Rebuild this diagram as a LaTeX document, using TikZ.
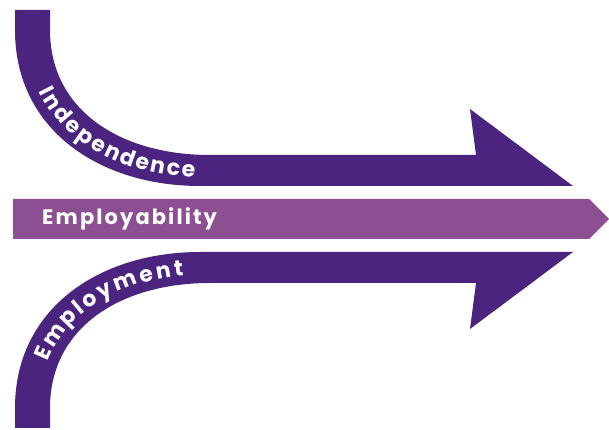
\documentclass[tikz,border=0pt]{standalone}
\usepackage{fontspec}
\newfontfamily\popfont[LetterSpace=10]{Poppins}
\usetikzlibrary{decorations.text}
\definecolor{darkpurple}{RGB}{75,36,128}
\definecolor{midpurple}{RGB}{139,79,146}
\newcommand\gapi{\kern1.5pt}
\newcommand\gapii{\kern3.6pt}
\tikzset{
	band/.style={fill=darkpurple, draw=none},
	curvetext/.style={decorate, decoration={text along path, raise=-7pt,
		text={|\popfont\bfseries\fontsize{22}{22}\selectfont\color{white}|#1}}}
}

\begin{document}
\begin{tikzpicture}[x=1pt,y=1pt]
	\useasboundingbox (0,0) rectangle (609,430);

	% upper arrow
	\fill[band] (15,420) -- (15,400) .. controls (15,300) and (100,244) .. (200,244)
		-- (573,244) -- (470,321) -- (476,275) -- (210,275)
		.. controls (120,275) and (50,320) .. (50,400) -- (50,420) -- cycle;

	% middle bar
	\fill[midpurple] (13,191) -- (589,191) -- (609,211) -- (589,231) -- (13,231) -- cycle;

	% lower arrow
	\fill[band] (15,2) -- (15,22) .. controls (15,122) and (100,178) .. (200,178)
		-- (573,178) -- (470,101) -- (476,147) -- (210,147)
		.. controls (120,147) and (50,102) .. (50,22) -- (50,2) -- cycle;

	% labels
	\path[curvetext={I{\gapi}n{\gapi}d{\gapi}e{\gapi}p{\gapi}e{\gapi}n{\gapi}d{\gapi}e{\gapi}n{\gapi}c{\gapi}e},
		decoration={text align={left indent=80pt}}]
		(32.5,420) -- (32.5,400) .. controls (32.5,310) and (110,259.5) .. (205,259.5) -- (470,259.5);
	\path[curvetext={E{\gapii}m{\gapii}p{\gapii}l{\gapii}o{\gapii}y{\gapii}m{\gapii}e{\gapii}n{\gapii}t},
		decoration={text align={left indent=70pt}}]
		(32.5,2) -- (32.5,22) .. controls (32.5,112) and (110,162.5) .. (205,162.5) -- (470,162.5);

	\node[anchor=west, inner sep=0pt, text=white, font=\popfont\bfseries\fontsize{21}{21}\selectfont](emp) at (42,211) {Employability};
\end{tikzpicture}
\end{document}
